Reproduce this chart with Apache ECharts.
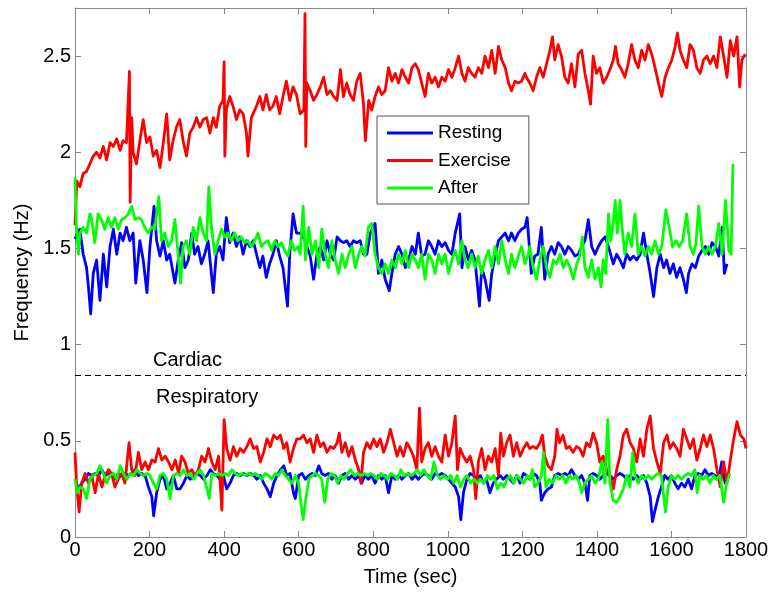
<!DOCTYPE html>
<html><head><meta charset="utf-8">
<script src="https://cdn.jsdelivr.net/npm/echarts@6/dist/echarts.min.js"></script>
<style>html,body{margin:0;padding:0;background:#fff}#c{width:773px;height:593px}</style>
</head><body><div id="c"></div>
<script>
const seriesNames = ['Resting', 'Exercise', 'After'];
const xTicks = [0, 200, 400, 600, 800, 1000, 1200, 1400, 1600, 1800];
const yTicks = [0, 0.5, 1, 1.5, 2, 2.5];
const cardiacSplit = 0.845;
const bandLabels = ['Cardiac', 'Respiratory'];

const restingCardiac = [[0,1.55],[13,1.60],[22,1.47],[31,1.40],[36,1.30],[42,1.16],[49,1.37],[58,1.44],[67,1.23],[76,1.47],[85,1.30],[94,1.51],[103,1.60],[112,1.47],[121,1.58],[129,1.54],[138,1.61],[147,1.54],[156,1.58],[163,1.32],[174,1.54],[183,1.44],[193,1.27],[201,1.51],[212,1.72],[219,1.54],[228,1.46],[237,1.54],[246,1.44],[254,1.47],[268,1.32],[277,1.44],[286,1.53],[295,1.40],[304,1.44],[313,1.58],[321,1.47],[330,1.51],[339,1.42],[348,1.47],[357,1.54],[371,1.27],[379,1.47],[388,1.51],[397,1.44],[406,1.66],[415,1.53],[424,1.58],[433,1.51],[442,1.56],[451,1.47],[460,1.54],[469,1.51],[478,1.54],[487,1.47],[496,1.40],[504,1.46],[513,1.35],[522,1.42],[531,1.47],[540,1.54],[549,1.46],[558,1.40],[570,1.20],[576,1.47],[585,1.68],[594,1.58],[604,1.58],[618,1.54],[622,1.51],[631,1.46],[640,1.34],[649,1.47],[658,1.51],[667,1.44],[676,1.54],[685,1.47],[694,1.44],[703,1.56],[712,1.54],[720,1.53],[729,1.54],[738,1.51],[747,1.54],[756,1.53],[765,1.54],[774,1.47],[783,1.47],[792,1.58],[805,1.63],[814,1.37],[823,1.44],[832,1.34],[843,1.28],[850,1.37],[859,1.47],[868,1.51],[877,1.47],[886,1.40],[895,1.44],[904,1.51],[913,1.47],[921,1.58],[930,1.46],[939,1.47],[948,1.54],[957,1.51],[966,1.47],[975,1.54],[984,1.51],[993,1.53],[1002,1.49],[1011,1.47],[1020,1.58],[1032,1.68],[1038,1.40],[1046,1.51],[1055,1.44],[1064,1.49],[1073,1.44],[1085,1.20],[1091,1.40],[1100,1.34],[1111,1.23],[1118,1.37],[1127,1.46],[1136,1.54],[1145,1.56],[1154,1.58],[1163,1.54],[1171,1.58],[1180,1.54],[1189,1.58],[1198,1.60],[1207,1.61],[1213,1.66],[1218,1.66],[1224,1.37],[1233,1.46],[1242,1.47],[1251,1.61],[1260,1.34],[1269,1.47],[1278,1.51],[1287,1.47],[1296,1.53],[1305,1.51],[1314,1.47],[1323,1.51],[1332,1.49],[1341,1.46],[1350,1.47],[1359,1.51],[1368,1.54],[1377,1.65],[1386,1.51],[1395,1.47],[1404,1.51],[1413,1.54],[1422,1.56],[1431,1.51],[1444,1.42],[1453,1.47],[1462,1.44],[1471,1.40],[1480,1.47],[1489,1.44],[1498,1.46],[1507,1.44],[1516,1.47],[1525,1.58],[1534,1.47],[1543,1.37],[1552,1.25],[1561,1.40],[1570,1.47],[1579,1.40],[1587,1.44],[1596,1.37],[1605,1.42],[1614,1.35],[1623,1.40],[1632,1.34],[1640,1.27],[1646,1.37],[1655,1.42],[1664,1.40],[1673,1.46],[1682,1.49],[1691,1.51],[1700,1.47],[1709,1.53],[1718,1.51],[1727,1.46],[1736,1.61],[1742,1.37],[1749,1.42]];

const exerciseCardiac = [[0,1.62],[5,1.85],[13,1.82],[22,1.89],[31,1.90],[40,1.94],[49,1.98],[58,2.00],[67,1.97],[76,2.03],[85,1.96],[94,2.05],[103,2.03],[112,2.07],[121,2.01],[129,2.06],[138,2.05],[146,2.42],[148,1.74],[152,2.18],[156,2.00],[165,1.94],[174,2.06],[183,2.17],[192,2.05],[201,2.08],[210,1.98],[219,2.01],[228,1.92],[237,2.05],[246,2.20],[254,1.96],[263,2.06],[272,2.13],[281,2.17],[290,2.06],[299,1.98],[308,2.10],[317,2.13],[326,2.18],[335,2.13],[344,2.17],[353,2.18],[362,2.10],[371,2.18],[379,2.13],[388,2.24],[397,2.27],[400,2.47],[402,1.98],[406,2.22],[415,2.29],[424,2.24],[433,2.17],[442,2.22],[451,2.20],[460,2.10],[464,1.98],[473,2.18],[487,2.24],[496,2.29],[504,2.22],[513,2.30],[522,2.22],[531,2.24],[540,2.29],[549,2.20],[558,2.29],[567,2.37],[576,2.27],[585,2.34],[594,2.30],[604,2.20],[614,2.22],[617,2.72],[619,2.03],[622,2.36],[631,2.32],[640,2.27],[649,2.30],[658,2.34],[667,2.39],[676,2.30],[685,2.32],[694,2.29],[703,2.27],[712,2.43],[720,2.29],[729,2.36],[738,2.30],[747,2.27],[756,2.37],[765,2.41],[774,2.25],[779,2.06],[788,2.27],[796,2.22],[805,2.29],[814,2.34],[823,2.30],[832,2.32],[841,2.44],[850,2.37],[859,2.41],[868,2.36],[877,2.43],[886,2.39],[895,2.36],[904,2.44],[913,2.46],[921,2.43],[930,2.36],[939,2.29],[948,2.41],[957,2.36],[966,2.39],[975,2.34],[984,2.39],[993,2.37],[1002,2.43],[1011,2.39],[1020,2.44],[1029,2.50],[1038,2.41],[1046,2.37],[1055,2.44],[1064,2.41],[1073,2.39],[1082,2.44],[1091,2.41],[1100,2.50],[1109,2.44],[1118,2.53],[1127,2.41],[1136,2.55],[1145,2.48],[1154,2.44],[1163,2.36],[1171,2.32],[1180,2.37],[1189,2.36],[1198,2.37],[1207,2.41],[1211,2.39],[1220,2.36],[1229,2.32],[1238,2.39],[1247,2.44],[1256,2.39],[1265,2.46],[1274,2.53],[1281,2.60],[1287,2.48],[1296,2.56],[1305,2.50],[1314,2.39],[1323,2.36],[1332,2.46],[1341,2.34],[1350,2.51],[1359,2.53],[1368,2.41],[1377,2.32],[1383,2.25],[1390,2.50],[1399,2.41],[1408,2.44],[1417,2.36],[1426,2.39],[1435,2.43],[1444,2.48],[1450,2.55],[1457,2.46],[1466,2.43],[1475,2.39],[1484,2.46],[1493,2.56],[1502,2.48],[1511,2.44],[1520,2.53],[1529,2.48],[1538,2.56],[1547,2.51],[1556,2.44],[1565,2.36],[1574,2.29],[1583,2.39],[1592,2.44],[1601,2.48],[1610,2.55],[1616,2.62],[1623,2.53],[1632,2.48],[1641,2.44],[1650,2.56],[1659,2.53],[1668,2.44],[1677,2.41],[1686,2.48],[1695,2.50],[1704,2.46],[1713,2.50],[1722,2.44],[1731,2.60],[1740,2.50],[1749,2.39],[1758,2.58],[1767,2.50],[1776,2.60],[1783,2.34],[1789,2.48],[1798,2.51]];

const afterCardiac = [[0,1.87],[4,1.61],[9,1.47],[13,1.58],[22,1.61],[31,1.58],[40,1.68],[44,1.66],[53,1.53],[62,1.68],[71,1.65],[80,1.60],[89,1.66],[98,1.61],[107,1.66],[116,1.60],[125,1.65],[134,1.66],[143,1.68],[152,1.72],[161,1.65],[170,1.66],[178,1.65],[187,1.61],[196,1.58],[205,1.61],[214,1.60],[225,1.77],[232,1.54],[241,1.58],[250,1.51],[259,1.54],[268,1.65],[277,1.46],[283,1.32],[290,1.51],[299,1.54],[308,1.47],[317,1.61],[326,1.54],[335,1.66],[344,1.58],[353,1.54],[359,1.82],[366,1.61],[375,1.47],[384,1.54],[393,1.60],[402,1.56],[410,1.58],[419,1.54],[428,1.58],[437,1.54],[446,1.56],[455,1.53],[464,1.54],[473,1.51],[482,1.54],[491,1.58],[500,1.51],[509,1.53],[518,1.54],[527,1.49],[536,1.54],[545,1.51],[554,1.53],[562,1.49],[571,1.46],[580,1.54],[589,1.49],[598,1.51],[604,1.47],[612,1.72],[618,1.44],[627,1.61],[636,1.47],[645,1.54],[654,1.40],[662,1.60],[671,1.47],[680,1.40],[689,1.54],[698,1.44],[707,1.37],[716,1.47],[725,1.40],[734,1.47],[743,1.51],[752,1.40],[761,1.47],[769,1.51],[778,1.46],[787,1.61],[796,1.63],[805,1.47],[814,1.40],[823,1.37],[832,1.42],[841,1.37],[850,1.44],[859,1.40],[868,1.47],[877,1.42],[886,1.49],[895,1.40],[904,1.47],[913,1.44],[921,1.40],[930,1.47],[939,1.34],[948,1.47],[957,1.44],[966,1.37],[975,1.47],[984,1.42],[993,1.47],[1002,1.37],[1011,1.44],[1020,1.49],[1029,1.42],[1038,1.54],[1046,1.44],[1055,1.40],[1064,1.47],[1073,1.40],[1082,1.46],[1091,1.37],[1100,1.44],[1109,1.49],[1118,1.40],[1127,1.51],[1136,1.42],[1145,1.54],[1154,1.44],[1163,1.37],[1171,1.47],[1180,1.40],[1189,1.46],[1198,1.51],[1207,1.42],[1216,1.47],[1220,1.51],[1229,1.40],[1238,1.34],[1247,1.44],[1256,1.51],[1265,1.40],[1274,1.35],[1283,1.44],[1292,1.42],[1301,1.47],[1310,1.40],[1319,1.44],[1328,1.40],[1337,1.34],[1346,1.42],[1355,1.47],[1361,1.56],[1368,1.40],[1377,1.35],[1386,1.44],[1395,1.34],[1404,1.40],[1411,1.30],[1417,1.44],[1424,1.37],[1431,1.68],[1437,1.54],[1444,1.63],[1449,1.75],[1455,1.58],[1462,1.75],[1469,1.58],[1475,1.47],[1484,1.58],[1493,1.51],[1502,1.68],[1511,1.47],[1520,1.51],[1529,1.46],[1538,1.51],[1547,1.47],[1556,1.54],[1565,1.47],[1574,1.51],[1585,1.70],[1594,1.61],[1603,1.51],[1612,1.54],[1621,1.51],[1630,1.54],[1641,1.68],[1650,1.51],[1659,1.47],[1666,1.53],[1673,1.72],[1682,1.51],[1691,1.47],[1700,1.51],[1709,1.47],[1718,1.51],[1727,1.63],[1736,1.47],[1745,1.75],[1754,1.49],[1760,1.47],[1765,1.94]];

const restingResp = [[0,0.30],[9,0.25],[18,0.28],[27,0.30],[36,0.33],[45,0.32],[54,0.33],[63,0.32],[72,0.35],[81,0.32],[90,0.33],[98,0.33],[107,0.30],[116,0.33],[125,0.32],[134,0.33],[143,0.32],[152,0.33],[161,0.35],[170,0.32],[179,0.33],[188,0.32],[197,0.26],[206,0.21],[211,0.11],[219,0.23],[228,0.30],[237,0.32],[246,0.25],[255,0.28],[264,0.32],[273,0.25],[282,0.25],[291,0.28],[300,0.32],[309,0.30],[318,0.32],[327,0.33],[336,0.32],[345,0.30],[354,0.32],[363,0.35],[371,0.33],[380,0.32],[389,0.30],[398,0.32],[407,0.25],[416,0.28],[425,0.32],[434,0.33],[443,0.32],[452,0.33],[461,0.32],[470,0.33],[479,0.32],[488,0.30],[497,0.32],[506,0.28],[515,0.25],[524,0.21],[533,0.28],[542,0.32],[551,0.35],[560,0.37],[568,0.32],[577,0.33],[586,0.23],[591,0.20],[600,0.32],[609,0.33],[618,0.30],[627,0.32],[636,0.33],[645,0.32],[654,0.37],[662,0.33],[671,0.32],[680,0.33],[689,0.30],[698,0.32],[707,0.28],[716,0.32],[725,0.33],[734,0.30],[743,0.32],[752,0.30],[761,0.32],[769,0.28],[778,0.32],[787,0.30],[796,0.32],[805,0.28],[814,0.32],[823,0.30],[832,0.32],[841,0.23],[850,0.32],[859,0.30],[868,0.32],[877,0.30],[886,0.32],[895,0.33],[904,0.30],[913,0.32],[921,0.30],[930,0.32],[939,0.33],[948,0.32],[957,0.30],[966,0.33],[975,0.32],[984,0.33],[993,0.32],[1002,0.30],[1011,0.28],[1020,0.26],[1029,0.21],[1035,0.09],[1042,0.23],[1051,0.30],[1060,0.33],[1069,0.32],[1078,0.30],[1087,0.32],[1096,0.28],[1104,0.30],[1113,0.23],[1122,0.28],[1131,0.30],[1140,0.32],[1149,0.30],[1158,0.32],[1167,0.30],[1176,0.28],[1185,0.32],[1194,0.28],[1203,0.33],[1212,0.32],[1220,0.30],[1229,0.33],[1238,0.32],[1247,0.28],[1251,0.19],[1260,0.23],[1269,0.25],[1278,0.26],[1287,0.32],[1296,0.33],[1305,0.32],[1314,0.33],[1323,0.32],[1332,0.35],[1341,0.32],[1350,0.30],[1359,0.32],[1368,0.28],[1375,0.19],[1381,0.32],[1390,0.33],[1399,0.32],[1408,0.30],[1417,0.32],[1426,0.33],[1435,0.32],[1444,0.30],[1453,0.32],[1462,0.33],[1471,0.32],[1480,0.30],[1489,0.32],[1498,0.30],[1507,0.32],[1516,0.30],[1525,0.32],[1534,0.28],[1543,0.21],[1549,0.08],[1556,0.14],[1565,0.21],[1573,0.26],[1582,0.32],[1591,0.30],[1600,0.32],[1609,0.28],[1618,0.25],[1627,0.28],[1636,0.26],[1645,0.30],[1654,0.25],[1663,0.32],[1672,0.33],[1681,0.32],[1690,0.35],[1699,0.32],[1708,0.33],[1717,0.32],[1726,0.30],[1735,0.39],[1744,0.28],[1752,0.32]];

const exerciseResp = [[0,0.44],[4,0.28],[11,0.13],[18,0.28],[27,0.33],[36,0.28],[45,0.32],[54,0.23],[63,0.33],[72,0.26],[81,0.32],[90,0.35],[98,0.33],[107,0.26],[116,0.30],[125,0.33],[134,0.28],[145,0.49],[152,0.35],[161,0.32],[170,0.44],[179,0.35],[188,0.39],[197,0.35],[206,0.40],[215,0.39],[224,0.46],[233,0.40],[242,0.42],[251,0.39],[260,0.35],[269,0.40],[278,0.33],[286,0.42],[295,0.39],[304,0.33],[313,0.35],[322,0.32],[331,0.35],[340,0.42],[349,0.39],[358,0.46],[367,0.39],[376,0.35],[385,0.42],[394,0.14],[400,0.61],[407,0.46],[416,0.40],[425,0.47],[434,0.42],[443,0.46],[452,0.44],[461,0.47],[470,0.51],[479,0.46],[488,0.47],[497,0.39],[506,0.44],[515,0.51],[524,0.47],[533,0.53],[542,0.51],[551,0.53],[560,0.46],[568,0.49],[577,0.39],[586,0.46],[595,0.51],[604,0.51],[613,0.53],[622,0.49],[631,0.51],[640,0.44],[649,0.53],[658,0.47],[667,0.49],[676,0.44],[685,0.47],[694,0.46],[703,0.49],[709,0.54],[716,0.44],[725,0.49],[734,0.42],[743,0.47],[752,0.40],[761,0.35],[767,0.28],[774,0.44],[783,0.49],[792,0.46],[801,0.51],[810,0.47],[819,0.51],[828,0.44],[837,0.49],[846,0.56],[855,0.49],[864,0.42],[872,0.47],[881,0.42],[890,0.49],[899,0.46],[908,0.42],[917,0.35],[924,0.67],[930,0.39],[939,0.46],[948,0.49],[957,0.42],[966,0.47],[975,0.42],[984,0.39],[993,0.53],[1002,0.42],[1011,0.49],[1020,0.63],[1026,0.35],[1033,0.46],[1042,0.42],[1051,0.39],[1060,0.42],[1069,0.35],[1075,0.20],[1082,0.39],[1091,0.46],[1100,0.35],[1109,0.42],[1118,0.39],[1127,0.46],[1136,0.32],[1142,0.54],[1149,0.42],[1158,0.49],[1167,0.53],[1176,0.42],[1185,0.49],[1194,0.42],[1203,0.46],[1212,0.49],[1220,0.46],[1229,0.47],[1238,0.46],[1247,0.49],[1254,0.53],[1260,0.42],[1269,0.37],[1278,0.35],[1287,0.42],[1293,0.56],[1300,0.49],[1309,0.53],[1318,0.46],[1327,0.47],[1336,0.44],[1345,0.47],[1354,0.46],[1363,0.42],[1372,0.49],[1381,0.47],[1390,0.54],[1399,0.49],[1408,0.39],[1417,0.42],[1426,0.35],[1435,0.32],[1444,0.25],[1453,0.35],[1462,0.42],[1471,0.53],[1480,0.56],[1489,0.49],[1498,0.46],[1507,0.39],[1516,0.51],[1525,0.42],[1534,0.56],[1543,0.63],[1552,0.46],[1561,0.39],[1570,0.33],[1579,0.49],[1588,0.53],[1596,0.46],[1605,0.49],[1614,0.46],[1623,0.42],[1632,0.56],[1641,0.51],[1650,0.46],[1659,0.51],[1668,0.40],[1677,0.46],[1686,0.53],[1695,0.47],[1704,0.53],[1713,0.46],[1722,0.35],[1731,0.26],[1740,0.39],[1749,0.28],[1758,0.40],[1767,0.51],[1776,0.60],[1785,0.53],[1794,0.51],[1800,0.46]];

const afterResp = [[0,0.30],[6,0.23],[13,0.26],[22,0.25],[31,0.20],[40,0.30],[49,0.32],[58,0.33],[67,0.37],[76,0.33],[85,0.28],[94,0.32],[103,0.33],[112,0.30],[121,0.37],[130,0.33],[139,0.30],[148,0.33],[157,0.32],[166,0.35],[175,0.33],[184,0.32],[193,0.33],[201,0.32],[210,0.28],[219,0.25],[228,0.32],[237,0.33],[246,0.30],[255,0.20],[264,0.32],[273,0.33],[282,0.32],[291,0.35],[300,0.32],[309,0.33],[318,0.30],[327,0.33],[336,0.35],[345,0.32],[354,0.25],[360,0.20],[367,0.33],[376,0.32],[385,0.33],[394,0.32],[403,0.33],[412,0.32],[421,0.35],[430,0.33],[439,0.32],[448,0.33],[457,0.32],[466,0.33],[475,0.32],[483,0.33],[492,0.32],[501,0.30],[510,0.33],[519,0.32],[528,0.30],[537,0.33],[546,0.32],[555,0.35],[564,0.32],[573,0.30],[582,0.28],[591,0.32],[600,0.28],[604,0.21],[612,0.09],[618,0.18],[627,0.30],[636,0.32],[645,0.33],[654,0.32],[662,0.30],[670,0.18],[678,0.30],[687,0.33],[696,0.32],[704,0.28],[713,0.32],[722,0.30],[731,0.33],[740,0.35],[749,0.32],[758,0.33],[767,0.32],[776,0.33],[785,0.32],[793,0.33],[802,0.32],[811,0.30],[820,0.33],[829,0.32],[838,0.30],[847,0.33],[856,0.32],[865,0.30],[874,0.35],[883,0.32],[892,0.33],[901,0.32],[910,0.33],[918,0.35],[927,0.32],[936,0.35],[945,0.32],[954,0.30],[963,0.39],[972,0.32],[981,0.30],[990,0.32],[999,0.30],[1008,0.32],[1016,0.28],[1025,0.32],[1034,0.26],[1043,0.30],[1052,0.32],[1061,0.28],[1070,0.30],[1079,0.28],[1088,0.30],[1097,0.28],[1106,0.32],[1115,0.30],[1124,0.32],[1133,0.25],[1142,0.28],[1150,0.26],[1159,0.30],[1168,0.32],[1177,0.28],[1186,0.32],[1195,0.30],[1204,0.28],[1213,0.32],[1220,0.30],[1227,0.35],[1233,0.26],[1242,0.28],[1251,0.32],[1257,0.44],[1263,0.26],[1272,0.30],[1281,0.28],[1290,0.32],[1299,0.30],[1308,0.32],[1317,0.28],[1326,0.32],[1335,0.30],[1344,0.32],[1353,0.28],[1359,0.23],[1368,0.28],[1377,0.30],[1386,0.32],[1395,0.28],[1404,0.30],[1413,0.39],[1422,0.28],[1429,0.61],[1435,0.28],[1444,0.19],[1453,0.18],[1462,0.21],[1471,0.25],[1480,0.32],[1489,0.26],[1496,0.44],[1502,0.32],[1511,0.28],[1520,0.32],[1529,0.30],[1538,0.32],[1547,0.30],[1556,0.32],[1565,0.33],[1573,0.32],[1584,0.13],[1591,0.26],[1600,0.32],[1609,0.30],[1618,0.32],[1627,0.30],[1636,0.32],[1645,0.33],[1654,0.32],[1663,0.35],[1669,0.23],[1676,0.32],[1685,0.30],[1694,0.32],[1703,0.28],[1712,0.32],[1721,0.30],[1730,0.32],[1740,0.18],[1748,0.28],[1757,0.33]];

const colors = {Resting: '#0000ff', Exercise: '#ff0000', After: '#00ff00'};
const FONT = 'Liberation Sans, Arial, sans-serif';
const axisGray = '#888888';

function lineSeries(name, data, extra) {
  return Object.assign({
    name: name, type: 'line', data: data, showSymbol: false, symbol: 'none',
    smooth: false, color: colors[name],
    lineStyle: {color: colors[name], width: 2.8, join: 'round'},
    emphasis: {disabled: true}, silent: true
  }, extra || {});
}

const boxAxisCommon = {
  axisLine: {show: true, onZero: false, lineStyle: {color: axisGray, width: 1}},
  axisTick: {show: true, inside: true, length: 6, lineStyle: {color: axisGray}},
  splitLine: {show: false}
};

const chart = echarts.init(document.getElementById('c'), null, {renderer: 'canvas'});
chart.setOption({
  animation: false,
  backgroundColor: '#ffffff',
  grid: {left: 75, right: 27, top: 8, bottom: 56, containLabel: false},
  xAxis: [Object.assign({
    type: 'value', position: 'bottom', min: xTicks[0], max: xTicks[xTicks.length - 1], interval: 200,
    name: 'Time (sec)', nameLocation: 'middle', nameGap: 30,
    nameTextStyle: {fontFamily: FONT, fontSize: 20, color: '#000'},
    axisLabel: {fontFamily: FONT, fontSize: 20, color: '#000', margin: 3,
      formatter: v => String(v)}
  }, boxAxisCommon), Object.assign({
    type: 'value', position: 'top', min: xTicks[0], max: xTicks[xTicks.length - 1], interval: 200,
    axisLabel: {show: false}
  }, boxAxisCommon)],
  yAxis: [Object.assign({
    type: 'value', position: 'left', min: 0, max: 2.75, interval: 0.5,
    name: 'Frequency (Hz)', nameLocation: 'middle', nameGap: 43,
    nameTextStyle: {fontFamily: FONT, fontSize: 20, color: '#000'},
    axisLabel: {fontFamily: FONT, fontSize: 20, color: '#000', margin: 4, showMaxLabel: false,
      formatter: v => (yTicks.indexOf(v) >= 0 ? String(v) : '')}
  }, boxAxisCommon), Object.assign({
    type: 'value', position: 'right', min: 0, max: 2.75, interval: 0.5,
    axisLabel: {show: false}
  }, boxAxisCommon)],
  legend: {
    data: seriesNames, orient: 'vertical', left: 377, top: 116,
    icon: 'rect', itemWidth: 46, itemHeight: 3, itemGap: 7.5,
    padding: [7, 18, 6, 10], selectedMode: false,
    backgroundColor: '#ffffff', borderColor: '#555555', borderWidth: 1, borderRadius: 0,
    textStyle: {fontFamily: FONT, fontSize: 19, color: '#000', lineHeight: 20}
  },
  graphic: [
    {type: 'text', left: 153, top: 350, silent: true,
     style: {text: bandLabels[0], font: '20px ' + FONT, fill: '#000'}},
    {type: 'text', left: 156, top: 387, silent: true,
     style: {text: bandLabels[1], font: '20px ' + FONT, fill: '#000'}}
  ],
  series: [
    lineSeries('Resting', restingCardiac, {
      markLine: {silent: true, symbol: ['none', 'none'], label: {show: false},
        lineStyle: {type: [6, 4], color: '#000', width: 1},
        data: [{yAxis: cardiacSplit}]}
    }),
    lineSeries('Resting', restingResp),
    lineSeries('Exercise', exerciseCardiac),
    lineSeries('Exercise', exerciseResp),
    lineSeries('After', afterCardiac),
    lineSeries('After', afterResp)
  ]
});
</script>
</body></html>
